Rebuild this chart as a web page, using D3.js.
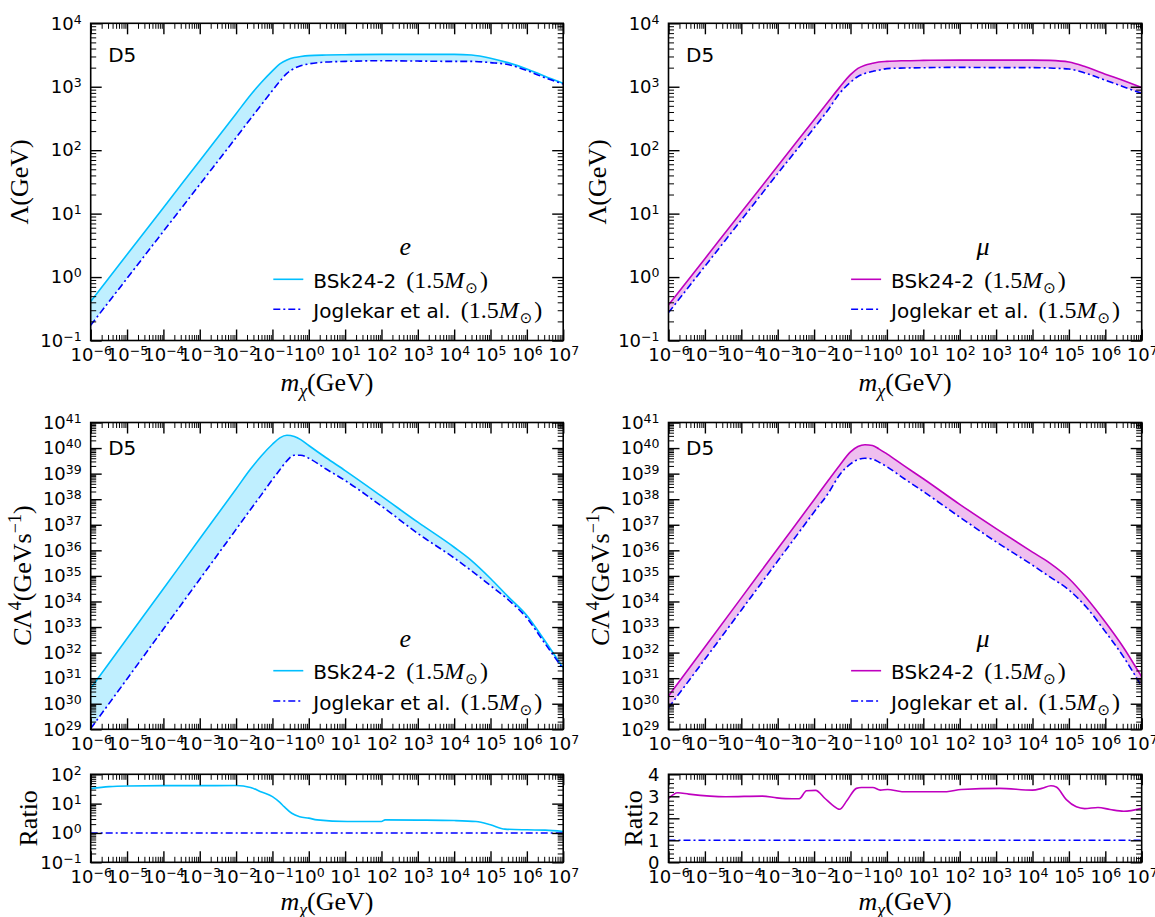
<!DOCTYPE html>
<html>
<head>
<meta charset="utf-8">
<script src="https://cdn.jsdelivr.net/npm/d3@7"></script>
<style>
  body { margin: 0; background: #fff; }
  svg { display: block; }
</style>
</head>
<body>
<svg id="fig" width="1155" height="917"></svg>
<script>
// ---------------------------------------------------------------
// Data: D5 operator, BSk24-2 vs Joglekar et al. (1.5 M_sun)
// ---------------------------------------------------------------

// Dark-matter mass grid (GeV) shared by the Λ and CΛ⁴ curves
const mass = [1e-6, 1e-5, 1e-4, 1e-3, 1e-2, 2.5e-2, 5e-2, 0.1, 0.16, 0.25, 0.4, 0.6,
              1, 3, 10, 100, 1e3, 1e4, 3e4, 1e5, 3e5, 1e6, 3e6, 1e7];

// Λ (GeV) – electron targets
const lambdaBSkE  = [0.412, 2.26, 12.4, 68.4, 376, 741, 1175, 1780, 2290, 2630, 2880, 2990,
                     3090, 3160, 3200, 3240, 3240, 3240, 3160, 2820, 2400, 1910, 1480, 1135];
const lambdaJogE  = [0.174, 0.955, 5.25, 28.8, 158, 313, 522, 871, 1220, 1620, 1950, 2140,
                     2290, 2450, 2510, 2570, 2540, 2510, 2510, 2400, 2240, 1800, 1400, 1110];

// Λ (GeV) – muon targets
const lambdaBSkMu = [0.363, 1.95, 10.5, 56.2, 302, 589, 977, 1550, 1950, 2190, 2340, 2450,
                     2510, 2570, 2600, 2630, 2630, 2630, 2600, 2450, 2040, 1580, 1260, 977];
const lambdaJogMu = [0.275, 1.48, 7.94, 42.7, 224, 442, 785, 1175, 1450, 1620, 1740, 1820,
                     1930, 1970, 1995, 2020, 2000, 2000, 1970, 1905, 1620, 1270, 1010, 785];

// CΛ⁴ (GeV s⁻¹) – electron targets
const capBSkE  = [3.98e30, 3.55e32, 3.16e34, 2.82e36, 2.51e38, 1.51e39, 5.01e39, 1.41e40,
                  2.51e40, 3.16e40, 2.82e40, 2.14e40, 1.26e40, 4.17e39, 1.32e39, 1.32e38,
                  1.26e37, 1.32e36, 3.98e35, 7.94e34, 1.58e34, 2.82e33, 3.16e32, 2.51e31];
const capJogE  = [1.07e29, 9.33e30, 8.32e32, 7.41e34, 6.61e36, 3.98e37, 1.51e38, 5.89e38,
                  1.41e39, 3.16e39, 5.25e39, 5.25e39, 3.98e39, 1.51e39, 5.37e38, 5.37e37,
                  4.57e36, 5.01e35, 1.58e35, 4.17e34, 1.20e34, 2.24e33, 2.51e32, 2.24e31];

// CΛ⁴ (GeV s⁻¹) – muon targets
const capBSkMu = [2.0e30, 1.66e32, 1.38e34, 1.15e36, 9.55e37, 5.62e38, 2.09e39, 7.08e39,
                  1.15e40, 1.35e40, 1.26e40, 9.33e39, 5.89e39, 2.0e39, 6.31e38, 6.31e37,
                  7.08e36, 8.51e35, 3.16e35, 7.94e34, 1.41e34, 1.58e33, 1.78e32, 1.12e31];
const capJogMu = [6.92e29, 5.5e31, 4.57e33, 3.8e35, 3.16e37, 1.78e38, 8.91e38, 2.4e39,
                  3.55e39, 3.98e39, 3.72e39, 2.82e39, 1.86e39, 6.31e38, 2.0e38, 2.0e37,
                  2.14e36, 2.63e35, 9.12e34, 2.82e34, 6.03e33, 6.61e32, 7.59e31, 4.68e30];

// Ratio BSk24-2 / Joglekar – electrons
const ratioMassE = [1e-6, 3.2e-6, 1e-5, 1e-4, 1e-3, 1e-2, 2.5e-2, 5e-2, 0.1, 0.16, 0.21, 0.34,
                    0.56, 1, 1.7, 11.5, 100, 126, 1e3, 1e4, 4e4, 1e5, 2.5e5, 1e6, 3.2e6, 1e7];
const ratioE     = [33, 38, 40, 41, 41, 41.5, 35.5, 25, 17.4, 11, 7.9, 4.7,
                    3.6, 3.2, 2.8, 2.45, 2.45, 2.8, 2.75, 2.65, 2.45, 1.9, 1.35, 1.28, 1.25, 1.12];

// Ratio BSk24-2 / Joglekar – muons
const ratioMassMu = [1e-6, 1.8e-6, 3.6e-6, 3.7e-5, 3.8e-4, 9.5e-4, 2.5e-3, 3.9e-3, 6.2e-3, 1.1e-2,
                     2.0e-2, 3.2e-2, 5.0e-2, 8.1e-2, 0.145, 0.2, 0.41, 0.66, 1.05, 2.6,
                     44, 110, 1260, 1e4, 1.8e4, 3.2e4, 4.5e4, 8.5e4, 1.6e5, 2.7e5,
                     6.3e5, 1.35e6, 3.2e6, 1e7];
const ratioMu     = [2.90, 3.16, 3.10, 2.98, 3.01, 2.93, 2.89, 2.89, 3.25, 3.27,
                     2.90, 2.60, 2.41, 2.82, 3.36, 3.40, 3.40, 3.28, 3.31, 3.21,
                     3.21, 3.31, 3.36, 3.28, 3.36, 3.48, 3.42, 2.85, 2.52, 2.44,
                     2.49, 2.40, 2.32, 2.45];

// Joglekar reference in the ratio panels
const refMass  = [1e-6, 1e7];
const refRatio = [1, 1];

// Axis ranges and tick labels
const massDomain = [1e-6, 1e7];
const massExponents = [-6, 7];
const lambdaExponents = [-1, 4];
const capExponents = [29, 41];
const ratioEExponents = [-1, 2];
const ratioMuTicks = [0, 1, 2, 3, 4];

// ---------------------------------------------------------------
// Layout & style
// ---------------------------------------------------------------
const SANS = "'DejaVu Sans', sans-serif";
const SERIF = "'Liberation Serif', 'DejaVu Serif', serif";
const colours = {
  e:  { line: '#00bfff', fill: '#bfefff' },
  mu: { line: '#bf00bf', fill: '#efbfef' },
  ref: '#0000ff'
};
const DASHDOT = '7,3,2,3';

const colX = [[90.7, 563.2], [668.5, 1141.7]];
const rowY = [[23.3, 340.5], [422.5, 729.3], [774.3, 862.3]];

const svg = d3.select('#fig');
let clipId = 0;

function decadeTicks(lo, hi) {
  const major = [], minor = [];
  for (let e = lo; e <= hi; e++) {
    major.push(+('1e' + e));
    if (e < hi) for (let k = 2; k <= 9; k++) minor.push(+(k + 'e' + e));
  }
  return { major, minor };
}

function powerLabel(text) {
  text.each(function (d) {
    const e = Math.round(Math.log10(d));
    const t = d3.select(this).text(null);
    t.append('tspan').text('10');
    t.append('tspan').attr('dy', -6).attr('font-size', 12.5).text(e < 0 ? '\u2212' + (-e) : String(e));
  });
}

function drawAxes(g, x, y, yTicks, yLog) {
  const [x0, x1] = x.range();
  const [yb, yt] = y.range();
  const xTicks = decadeTicks(massExponents[0], massExponents[1]);
  const sides = [
    { make: () => d3.axisBottom(x), at: `translate(0,${yb})`, t: xTicks, lab: true, log: true, pad: 7.7 },
    { make: () => d3.axisTop(x),    at: `translate(0,${yt})`, t: xTicks, lab: false },
    { make: () => d3.axisLeft(y),   at: `translate(${x0},0)`, t: yTicks, lab: true, log: yLog, pad: 9 },
    { make: () => d3.axisRight(y),  at: `translate(${x1},0)`, t: yTicks, lab: false }
  ];
  sides.forEach(s => {
    const minor = g.append('g').attr('transform', s.at)
      .call(s.make().tickValues(s.t.minor).tickSize(-5.5).tickSizeOuter(0).tickFormat(() => ''));
    minor.select('.domain').remove();
    minor.selectAll('line').attr('stroke', '#000').attr('stroke-width', 1);

    const major = g.append('g').attr('transform', s.at)
      .call(s.make().tickValues(s.t.major).tickSize(-11).tickSizeOuter(0)
        .tickPadding(s.pad || 3).tickFormat(s.lab ? (d => String(d)) : (() => '')));
    major.select('.domain').remove();
    major.selectAll('line').attr('stroke', '#000').attr('stroke-width', 1.4);
    major.attr('font-family', SANS).attr('font-size', 18);
    major.selectAll('text').attr('fill', '#000');
    if (s.lab && s.log) major.selectAll('text').call(powerLabel);
  });
  g.append('rect')
    .attr('x', x0).attr('y', yt).attr('width', x1 - x0).attr('height', yb - yt)
    .attr('fill', 'none').attr('stroke', '#000').attr('stroke-width', 1.6);
}

function xTitle(g, x0, x1, y) {
  const t = g.append('text').attr('x', (x0 + x1) / 2).attr('y', y)
    .attr('text-anchor', 'middle').attr('font-family', SERIF).attr('font-size', 26);
  t.append('tspan').attr('font-style', 'italic').text('m');
  t.append('tspan').attr('font-style', 'italic').attr('font-size', 18).attr('dy', 6).text('χ');
  t.append('tspan').attr('dy', -6).text('(GeV)');
}

function yTitle(g, x, yc, kind) {
  const t = g.append('text').attr('transform', `translate(${x},${yc}) rotate(-90)`)
    .attr('text-anchor', 'middle').attr('font-family', SERIF).attr('font-size', 26);
  if (kind === 'lambda') {
    t.text('Λ(GeV)');
  } else if (kind === 'cap') {
    t.append('tspan').attr('font-style', 'italic').text('C');
    t.append('tspan').text('Λ');
    t.append('tspan').attr('font-size', 18).attr('dy', -10).text('4');
    t.append('tspan').attr('dy', 10).text('(GeVs');
    t.append('tspan').attr('font-size', 18).attr('dy', -10).text('−1');
    t.append('tspan').attr('dy', 10).text(')');
  } else {
    t.text('Ratio');
  }
}

function legend(g, x0, y1, rows, title, lineColour) {
  g.append('text').attr('x', x0 + 314.5).attr('y', y1 + rows.title)
    .attr('text-anchor', 'middle').attr('font-family', SERIF).attr('font-style', 'italic')
    .attr('font-size', 26).text(title);
  const entries = [
    { label: 'BSk24-2', colour: lineColour, dash: null, dy: rows.first },
    { label: 'Joglekar et al.', colour: colours.ref, dash: DASHDOT, dy: rows.second }
  ];
  entries.forEach(en => {
    const y = y1 + en.dy;
    g.append('line').attr('x1', x0 + 182.6).attr('x2', x0 + 212.6).attr('y1', y).attr('y2', y)
      .attr('stroke', en.colour).attr('stroke-width', 1.6).attr('stroke-dasharray', en.dash);
    const t = g.append('text').attr('x', x0 + 222.6).attr('y', y + 8.5)
      .attr('font-family', SANS).attr('font-size', 20).attr('fill', '#000');
    t.append('tspan').text(en.label);
    t.append('tspan').attr('dx', 10).attr('font-family', SERIF).attr('font-size', 24).text('(1.5');
    t.append('tspan').attr('font-family', SERIF).attr('font-size', 24).attr('font-style', 'italic').text('M');
    t.append('tspan').attr('dx', 1).attr('font-family', SANS).attr('font-size', 15).attr('dy', 5).text('⊙');
    t.append('tspan').attr('dx', 2).attr('font-family', SERIF).attr('font-size', 24).attr('dy', -5).text(')');
  });
}

function panel(cfg) {
  const [x0, x1] = colX[cfg.col];
  const [y0, y1] = rowY[cfg.row];
  const g = svg.append('g');
  const x = d3.scaleLog().domain(massDomain).range([x0, x1]);
  const y = cfg.yLog
    ? d3.scaleLog().domain(cfg.yDomain).range([y1, y0])
    : d3.scaleLinear().domain(cfg.yDomain).range([y1, y0]);

  const id = 'clip' + (clipId++);
  g.append('clipPath').attr('id', id).append('rect')
    .attr('x', x0).attr('y', y0).attr('width', x1 - x0).attr('height', y1 - y0);
  const plot = g.append('g').attr('clip-path', `url(#${id})`);

  const col = colours[cfg.flavour];
  if (cfg.band) {
    const rows = cfg.band.mass.map((m, i) => ({ m, lo: cfg.band.lo[i], hi: cfg.band.hi[i] }));
    plot.append('path').datum(rows)
      .attr('fill', col.fill).attr('stroke', 'none')
      .attr('d', d3.area().x(d => x(d.m)).y0(d => y(d.lo)).y1(d => y(d.hi)).curve(d3.curveMonotoneX));
  }
  const line = d3.line().x(d => x(d.m)).y(d => y(d.v)).curve(d3.curveMonotoneX);
  cfg.lines.forEach(l => {
    const pts = l.mass.map((m, i) => ({ m, v: l.values[i] }));
    plot.append('path').datum(pts)
      .attr('fill', 'none').attr('stroke', l.ref ? colours.ref : col.line)
      .attr('stroke-width', 1.6).attr('stroke-dasharray', l.ref ? DASHDOT : null)
      .attr('d', line);
  });

  drawAxes(g, x, y, cfg.yTicks, cfg.yLog);

  if (cfg.d5) {
    g.append('text').attr('x', x0 + 17.5).attr('y', y0 + cfg.d5)
      .attr('font-family', SANS).attr('font-size', 20).text('D5');
  }
  if (cfg.legend) legend(g, x0, y1, cfg.legend, cfg.flavour === 'e' ? 'e' : 'μ', col.line);
  if (cfg.xTitle) xTitle(g, x0, x1, y1 + cfg.xTitle);
  yTitle(g, x0 + cfg.yTitleOffset, (y0 + y1) / 2, cfg.yKind);
}

const lambdaTicks = decadeTicks(lambdaExponents[0], lambdaExponents[1]);
const capTicks = decadeTicks(capExponents[0], capExponents[1]);
const ratioETicks = decadeTicks(ratioEExponents[0], ratioEExponents[1]);
const ratioMuTickSet = {
  major: ratioMuTicks,
  minor: d3.range(1, 20).map(i => i * 0.2).filter(v => Math.abs(v - Math.round(v)) > 1e-6)
};

const flav = [
  { key: 'e',  lam: [lambdaBSkE, lambdaJogE],   cap: [capBSkE, capJogE],   rm: ratioMassE,  r: ratioE },
  { key: 'mu', lam: [lambdaBSkMu, lambdaJogMu], cap: [capBSkMu, capJogMu], rm: ratioMassMu, r: ratioMu }
];

flav.forEach((f, col) => {
  panel({
    col, row: 0, flavour: f.key, yLog: true,
    yDomain: [+('1e' + lambdaExponents[0]), +('1e' + lambdaExponents[1])], yTicks: lambdaTicks,
    band: { mass, lo: f.lam[1], hi: f.lam[0] },
    lines: [{ mass, values: f.lam[0] }, { mass, values: f.lam[1], ref: true }],
    d5: 38.7, legend: { title: -85.5, first: -61.2, second: -31.2 },
    xTitle: 50, yKind: 'lambda', yTitleOffset: -63
  });
  panel({
    col, row: 1, flavour: f.key, yLog: true,
    yDomain: [+('1e' + capExponents[0]), +('1e' + capExponents[1])], yTicks: capTicks,
    band: { mass, lo: f.cap[1], hi: f.cap[0] },
    lines: [{ mass, values: f.cap[0] }, { mass, values: f.cap[1], ref: true }],
    d5: 32.5, legend: { title: -82, first: -58.6, second: -28.3 },
    xTitle: 0, yKind: 'cap', yTitleOffset: -60
  });
  panel({
    col, row: 2, flavour: f.key, yLog: f.key === 'e',
    yDomain: f.key === 'e' ? [+('1e' + ratioEExponents[0]), +('1e' + ratioEExponents[1])] : [0, 4],
    yTicks: f.key === 'e' ? ratioETicks : ratioMuTickSet,
    lines: [{ mass: f.rm, values: f.r }, { mass: refMass, values: refRatio, ref: true }],
    xTitle: 48, yKind: 'ratio', yTitleOffset: f.key === 'e' ? -54 : -26.5
  });
});
</script>
</body>
</html>
